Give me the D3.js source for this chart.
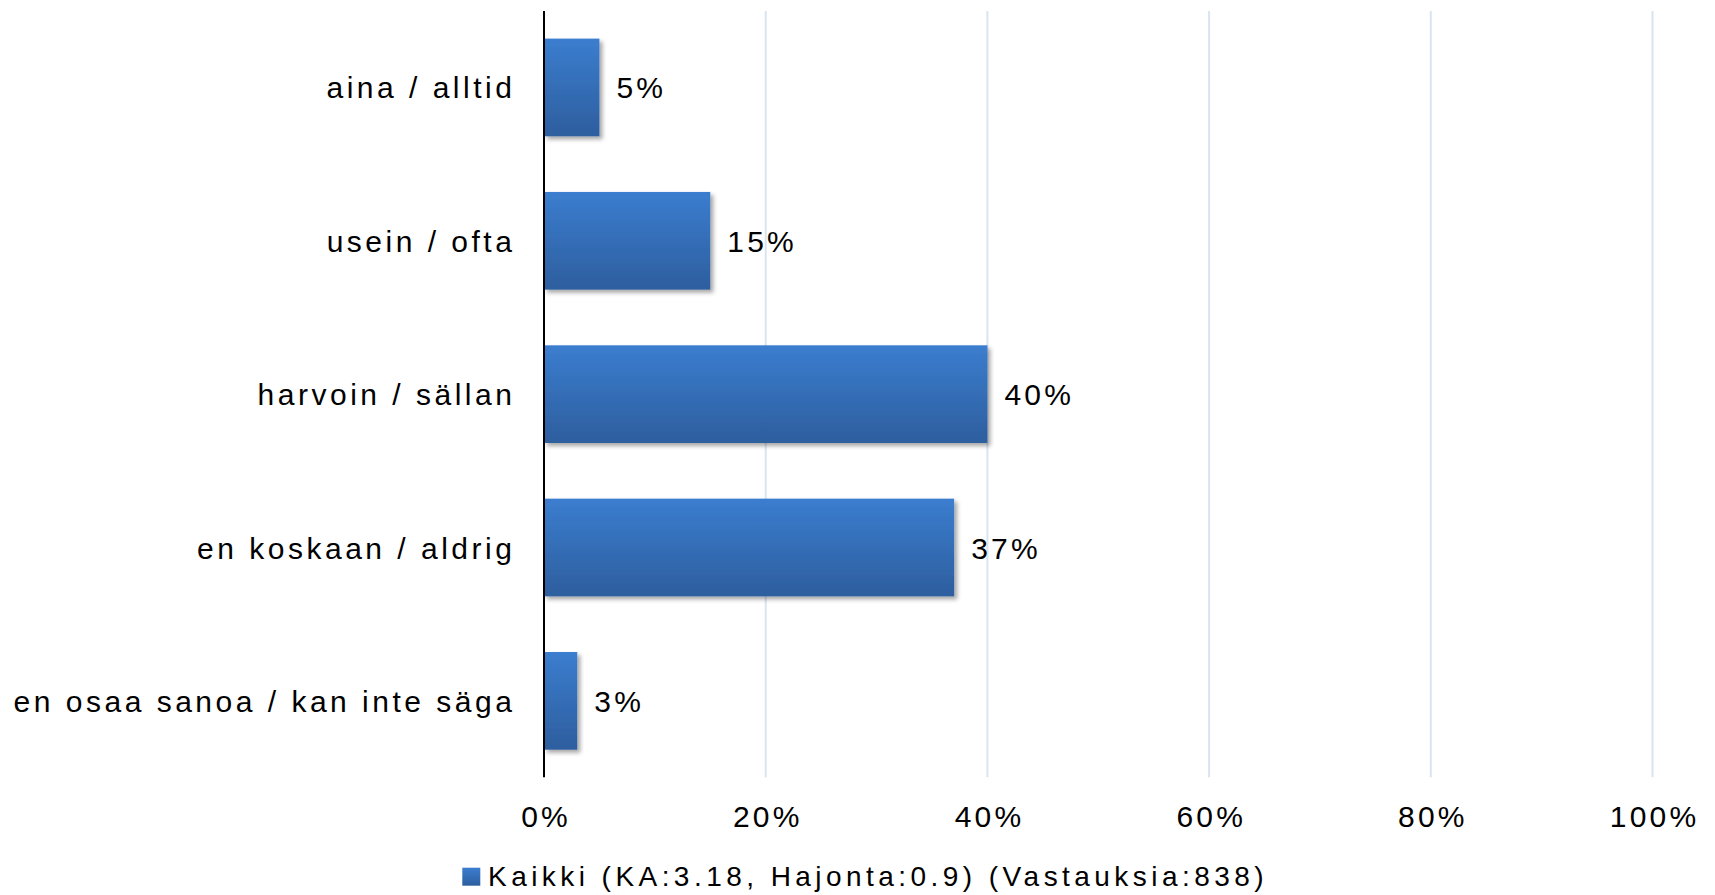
<!DOCTYPE html>
<html>
<head>
<meta charset="utf-8">
<script src="https://cdn.jsdelivr.net/npm/d3@7"></script>
<style>
  html, body { margin: 0; padding: 0; background: #fff; }
  svg { display: block; font-family: "Liberation Sans", Arial, sans-serif; }
</style>
</head>
<body>
<svg id="chart" width="1715" height="895"></svg>
<script>
const categories = [
  "aina / alltid",
  "usein / ofta",
  "harvoin / sällan",
  "en koskaan / aldrig",
  "en osaa sanoa / kan inte säga"
];
const values = [0.05, 0.15, 0.40, 0.37, 0.03];
const valueLabels = ["5%", "15%", "40%", "37%", "3%"];
const tickValues = [0, 0.2, 0.4, 0.6, 0.8, 1.0];
const tickLabels = ["0%", "20%", "40%", "60%", "80%", "100%"];
const seriesName = "Kaikki (KA:3.18, Hajonta:0.9) (Vastauksia:838)";

const svg = d3.select("#chart");
const plotLeft = 544, plotRight = 1652.5, plotTop = 11, plotBottom = 777.3;

const x = d3.scaleLinear().domain([0, 1]).range([plotLeft, plotRight]);
const y = d3.scaleBand().domain(categories).range([plotTop, plotBottom])
  .paddingInner(0.363).paddingOuter(0.18);

const defs = svg.append("defs");
const grad = defs.append("linearGradient").attr("id", "barGrad")
  .attr("x1", 0).attr("y1", 0).attr("x2", 0).attr("y2", 1);
grad.append("stop").attr("offset", "0%").attr("stop-color", "#3b7dcf");
grad.append("stop").attr("offset", "100%").attr("stop-color", "#2d5e9e");

const f = defs.append("filter").attr("id", "shadow")
  .attr("x", "-10%").attr("y", "-10%").attr("width", "130%").attr("height", "130%");
f.append("feDropShadow").attr("dx", 3).attr("dy", 3).attr("stdDeviation", 2)
  .attr("flood-color", "#000").attr("flood-opacity", 0.35);

// gridlines
svg.append("g").selectAll("line").data(tickValues.slice(1)).join("line")
  .attr("x1", d => x(d)).attr("x2", d => x(d))
  .attr("y1", plotTop).attr("y2", plotBottom)
  .attr("stroke", "#d9e4f1").attr("stroke-width", 2);

// bars
svg.append("g").selectAll("rect").data(values).join("rect")
  .attr("x", x(0))
  .attr("y", (d, i) => y(categories[i]))
  .attr("width", d => x(d) - x(0))
  .attr("height", y.bandwidth())
  .attr("fill", "url(#barGrad)")
  .attr("filter", "url(#shadow)");

// value labels
svg.append("g").selectAll("text").data(values).join("text")
  .attr("x", d => x(d) + 17)
  .attr("y", (d, i) => y(categories[i]) + y.bandwidth() / 2 + 11)
  .attr("font-size", 30)
  .attr("letter-spacing", "3.2px")
  .attr("fill", "#000")
  .text((d, i) => valueLabels[i]);

// category labels
svg.append("g").selectAll("text").data(categories).join("text")
  .attr("x", 512 + 3.4)
  .attr("y", d => y(d) + y.bandwidth() / 2 + 11)
  .attr("text-anchor", "end")
  .attr("font-size", 30)
  .attr("letter-spacing", "3.5px")
  .attr("fill", "#000")
  .text(d => d);

// x-axis tick labels
const xAxis = d3.axisBottom(x).tickValues(tickValues)
  .tickFormat((d, i) => tickLabels[i]).tickSize(0).tickPadding(0);
const ax = svg.append("g").attr("transform", `translate(0, ${plotBottom})`).call(xAxis);
ax.select(".domain").remove();
ax.selectAll("text")
  .attr("y", 50).attr("dy", null)
  .attr("dx", "1.6px")
  .attr("font-size", 30)
  .attr("font-family", "Liberation Sans, Arial, sans-serif")
  .attr("letter-spacing", "3.2px")
  .attr("fill", "#000");

// vertical axis line
svg.append("line")
  .attr("x1", x(0)).attr("x2", x(0))
  .attr("y1", plotTop).attr("y2", plotBottom)
  .attr("stroke", "#000").attr("stroke-width", 2);

// legend
const lg = svg.append("g");
lg.append("rect").attr("x", 462.3).attr("y", 867.7).attr("width", 18).attr("height", 18)
  .attr("fill", "url(#barGrad)");
lg.append("text").attr("x", 488).attr("y", 886)
  .attr("font-size", 28)
  .attr("letter-spacing", "4.45px")
  .attr("fill", "#000")
  .text(seriesName);
</script>
</body>
</html>
